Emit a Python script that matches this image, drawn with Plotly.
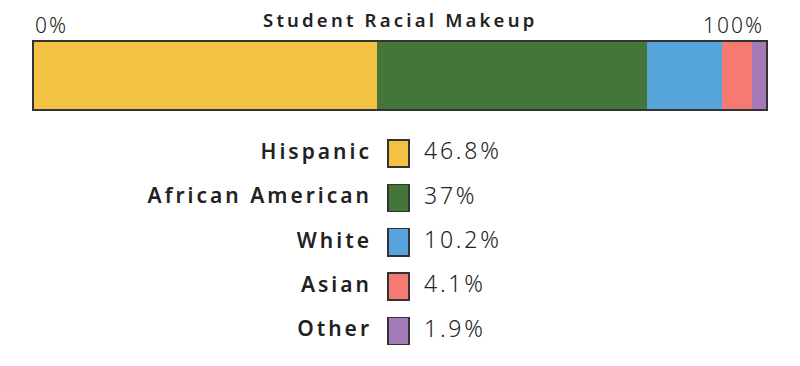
import plotly.graph_objects as go

categories = ["Hispanic", "African American", "White", "Asian", "Other"]
values = [46.8, 37, 10.2, 4.1, 1.9]
value_labels = ["46.8%", "37%", "10.2%", "4.1%", "1.9%"]
colors = ["#F4C242", "#44763A", "#55A5DC", "#F47A72", "#A57AB8"]
title = "Student Racial Makeup"
scale_labels = ["0%", "100%"]

W, H = 800, 366
EDGE = "#333333"
TXT = "#222222"


def spaced(s, px):
    return f'<span style="letter-spacing:{px}px">{s}</span>'


fig = go.Figure()

# stacked bar
for cat, v, c in zip(categories, values, colors):
    fig.add_trace(go.Bar(
        x=[v], y=[0], orientation="h", name=cat, width=1,
        marker=dict(color=c, line=dict(width=0)),
        xaxis="x", yaxis="y", showlegend=False, hoverinfo="name+x",
    ))

# legend swatches
fig.add_trace(go.Bar(
    y=categories, x=[21] * len(categories), base=388, orientation="h", width=0.61,
    marker=dict(color=colors, line=dict(color=EDGE, width=1.5)),
    xaxis="x2", yaxis="y2", showlegend=False, hoverinfo="skip",
))
fig.add_trace(go.Scatter(
    y=categories, x=[372] * len(categories), mode="text",
    text=[spaced(c, 3) for c in categories],
    textposition="middle left",
    textfont=dict(family="Noto Sans", size=21, color=TXT, weight=600),
    xaxis="x2", yaxis="y2", showlegend=False, hoverinfo="skip",
))
fig.add_trace(go.Scatter(
    y=categories, x=[424] * len(categories), mode="text",
    text=[spaced(v, 2.8) for v in value_labels],
    textposition="middle right",
    textfont=dict(family="Noto Sans", size=23, color=TXT, weight=300),
    xaxis="x2", yaxis="y2", showlegend=False, hoverinfo="skip",
))

x0, x1 = 34 / W, 766 / W
yb0, yb1 = 1 - 109 / H, 1 - 42 / H

fig.update_layout(
    width=W, height=H, barmode="stack",
    margin=dict(l=0, r=0, t=0, b=0),
    paper_bgcolor="white", plot_bgcolor="white",
    xaxis=dict(domain=[x0, x1], range=[0, sum(values)], showgrid=False, zeroline=False,
               showticklabels=False, showline=True, mirror=True, linecolor=EDGE, linewidth=2),
    yaxis=dict(domain=[yb0, yb1], range=[-0.5, 0.5], showgrid=False, zeroline=False,
               showticklabels=False, showline=True, mirror=True, linecolor=EDGE, linewidth=2),
    xaxis2=dict(domain=[0, 1], range=[0, W], visible=False, anchor="y2"),
    yaxis2=dict(domain=[1 - 353 / H, 1 - 131.5 / H], type="category", autorange="reversed",
                visible=False, anchor="x2"),
    annotations=[
        dict(text=spaced(title, 3.2), x=0.5, y=1 - 20 / H, xref="paper", yref="paper",
             showarrow=False, xanchor="center", yanchor="middle",
             font=dict(family="Noto Sans", size=18.5, color=TXT, weight=600)),
        dict(text=spaced(scale_labels[0], 2), x=x0, y=1 - 25 / H, xref="paper", yref="paper",
             showarrow=False, xanchor="left", yanchor="middle", xshift=-1,
             font=dict(family="Noto Sans", size=21, color=TXT, weight=300)),
        dict(text=spaced(scale_labels[1], 2), x=x1, y=1 - 25 / H, xref="paper", yref="paper",
             showarrow=False, xanchor="right", yanchor="middle", xshift=0,
             font=dict(family="Noto Sans", size=21, color=TXT, weight=300)),
    ],
)

fig.write_html("out.html")
